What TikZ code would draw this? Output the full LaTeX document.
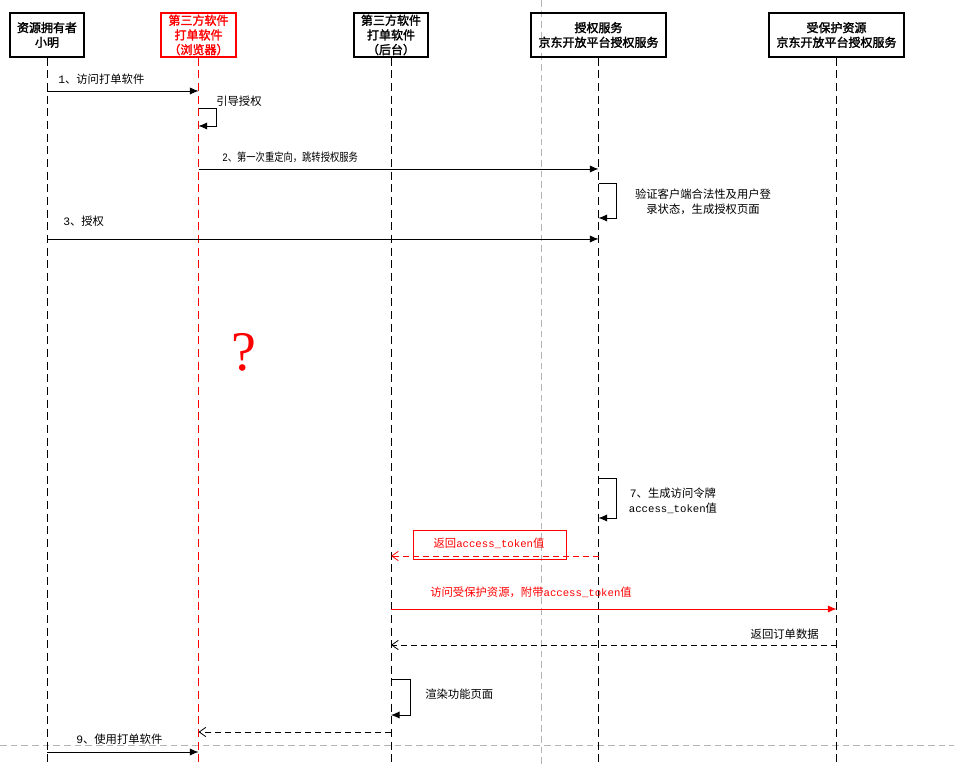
\documentclass[tikz,border=0pt]{standalone}
\usepackage{graphicx}
\usepackage{fontspec}
\setmainfont{Noto Sans CJK SC}[AutoFakeBold=2]
\setmonofont{Liberation Mono}
\newfontfamily\qfont{Liberation Serif}
\usetikzlibrary{arrows.meta}
\definecolor{grayline}{RGB}{180,180,180}
\tikzset{
  hdr/.style={draw,line width=0.8pt,minimum height=44*0.75pt,align=center,inner sep=1pt,font=\fontsize{9}{11}\selectfont\bfseries},
  life/.style={line width=0.7pt,dash pattern=on 6pt off 3.5pt},
  msg/.style={line width=0.7pt,-{Latex[length=6.5pt,width=5.5pt]}},
  ret/.style={line width=0.7pt,dash pattern=on 4.5pt off 3pt,-{Straight Barb[length=5pt,width=7pt,line width=0.6pt]}},
  lbl/.style={font=\fontsize{8.5}{11}\selectfont,inner sep=0pt},
  guide/.style={grayline,line width=0.6pt,dash pattern=on 5pt off 3pt}
}
\begin{document}
\begin{tikzpicture}[x=0.75pt,y=-0.75pt]
\useasboundingbox (0,0) rectangle (954,766);
% gray guides
\draw[guide] (541,0) -- (541,766);
\draw[guide] (0,745.5) -- (954,745.5);
% headers
\node[hdr,minimum width=74*0.75pt] (A) at (47,35) {资源拥有者\\小明};
\node[hdr,minimum width=75*0.75pt,red,text=red] (B) at (198.5,35) {第三方软件\\打单软件\\（浏览器）};
\node[hdr,minimum width=74*0.75pt] (C) at (391,35) {第三方软件\\打单软件\\（后台）};
\node[hdr,minimum width=135*0.75pt] (D) at (598.5,35) {授权服务\\京东开放平台授权服务};
\node[hdr,minimum width=135*0.75pt] (E) at (836.5,35) {受保护资源\\京东开放平台授权服务};
% lifeline ends
\coordinate (Ae) at (47,766);
\coordinate (Be) at (198.5,766);
\coordinate (Ce) at (391,766);
\coordinate (De) at (598.5,766);
\coordinate (Ee) at (836.5,766);
\draw[life] (A.south) -- (Ae);
\draw[life,red] (B.south) -- (Be);
\draw[life] (C.south) -- (Ce);
\draw[life] (D.south) -- (De);
\draw[life] (E.south) -- (Ee);
% message coordinates
\coordinate (m1a) at (47,91);   \coordinate (m1b) at (198.5,91);
\coordinate (s1a) at (198.5,108); \coordinate (s1b) at (198.5,126);
\coordinate (m2a) at (198.5,169); \coordinate (m2b) at (598.5,169);
\coordinate (s2a) at (598.5,183); \coordinate (s2b) at (598.5,218);
\coordinate (m3a) at (47,239);  \coordinate (m3b) at (598.5,239);
\coordinate (s7a) at (598.5,478); \coordinate (s7b) at (598.5,518);
\coordinate (r1a) at (598.5,556); \coordinate (r1b) at (391,556);
\coordinate (m8a) at (391,609); \coordinate (m8b) at (836.5,609);
\coordinate (r2a) at (836.5,645); \coordinate (r2b) at (391,645);
\coordinate (s8a) at (391,679); \coordinate (s8b) at (391,715);
\coordinate (r3a) at (391,732); \coordinate (r3b) at (198.5,732);
\coordinate (m9a) at (47,752);  \coordinate (m9b) at (198.5,752);
% messages
\draw[msg] (m1a) -- (m1b);
\node[lbl,anchor=west] (t1) at (58,79) {{\ttfamily 1}、访问打单软件};
\draw[msg] (s1a) -- ++(17.5,0) |- (s1b);
\node[lbl,anchor=west] (t1s) at (216,101) {引导授权};
\draw[msg] (m2a) -- (m2b);
\node[lbl,anchor=west] (t2) at (222,157) {\scalebox{0.82}[1]{{\ttfamily 2}、第一次重定向，跳转授权服务}};
\draw[msg] (s2a) -- ++(17.5,0) |- (s2b);
\node[lbl,align=center] (t2s) at (703,202) {验证客户端合法性及用户登\\录状态，生成授权页面};
\draw[msg] (m3a) -- (m3b);
\node[lbl,anchor=west] (t3) at (63,221) {{\ttfamily 3}、授权};
\node[red,font=\qfont\fontsize{42}{42}\selectfont,inner sep=0pt] (q) at (243.5,352) {?};
\draw[msg] (s7a) -- ++(17.5,0) |- (s7b);
\node[lbl,align=center] (t7) at (673,501) {{\ttfamily 7}、生成访问令牌\\{\ttfamily\fontsize{8}{11}\selectfont access\_token}值};
\node[draw=red,line width=0.7pt,minimum width=153*0.75pt,minimum height=29*0.75pt,inner sep=0pt] (rb) at (489.5,544.5) {};
\draw[ret,red] (r1a) -- (r1b);
\node[lbl,red] (tr1) at (489,543) {返回{\ttfamily\fontsize{8}{11}\selectfont access\_token}值};
\draw[msg,red] (m8a) -- (m8b);
\node[lbl,red,anchor=west] (t8) at (430,592) {访问受保护资源，附带{\ttfamily\fontsize{8}{11}\selectfont access\_token}值};
\draw[ret] (r2a) -- (r2b);
\node[lbl,anchor=east] (tr2) at (819,634) {返回订单数据};
\draw[msg] (s8a) -- ++(19,0) |- (s8b);
\node[lbl,anchor=west] (t8s) at (425,694) {渲染功能页面};
\draw[ret] (r3a) -- (r3b);
\draw[msg] (m9a) -- (m9b);
\node[lbl,anchor=west] (t9) at (76,739) {{\ttfamily 9}、使用打单软件};
\end{tikzpicture}
\end{document}
